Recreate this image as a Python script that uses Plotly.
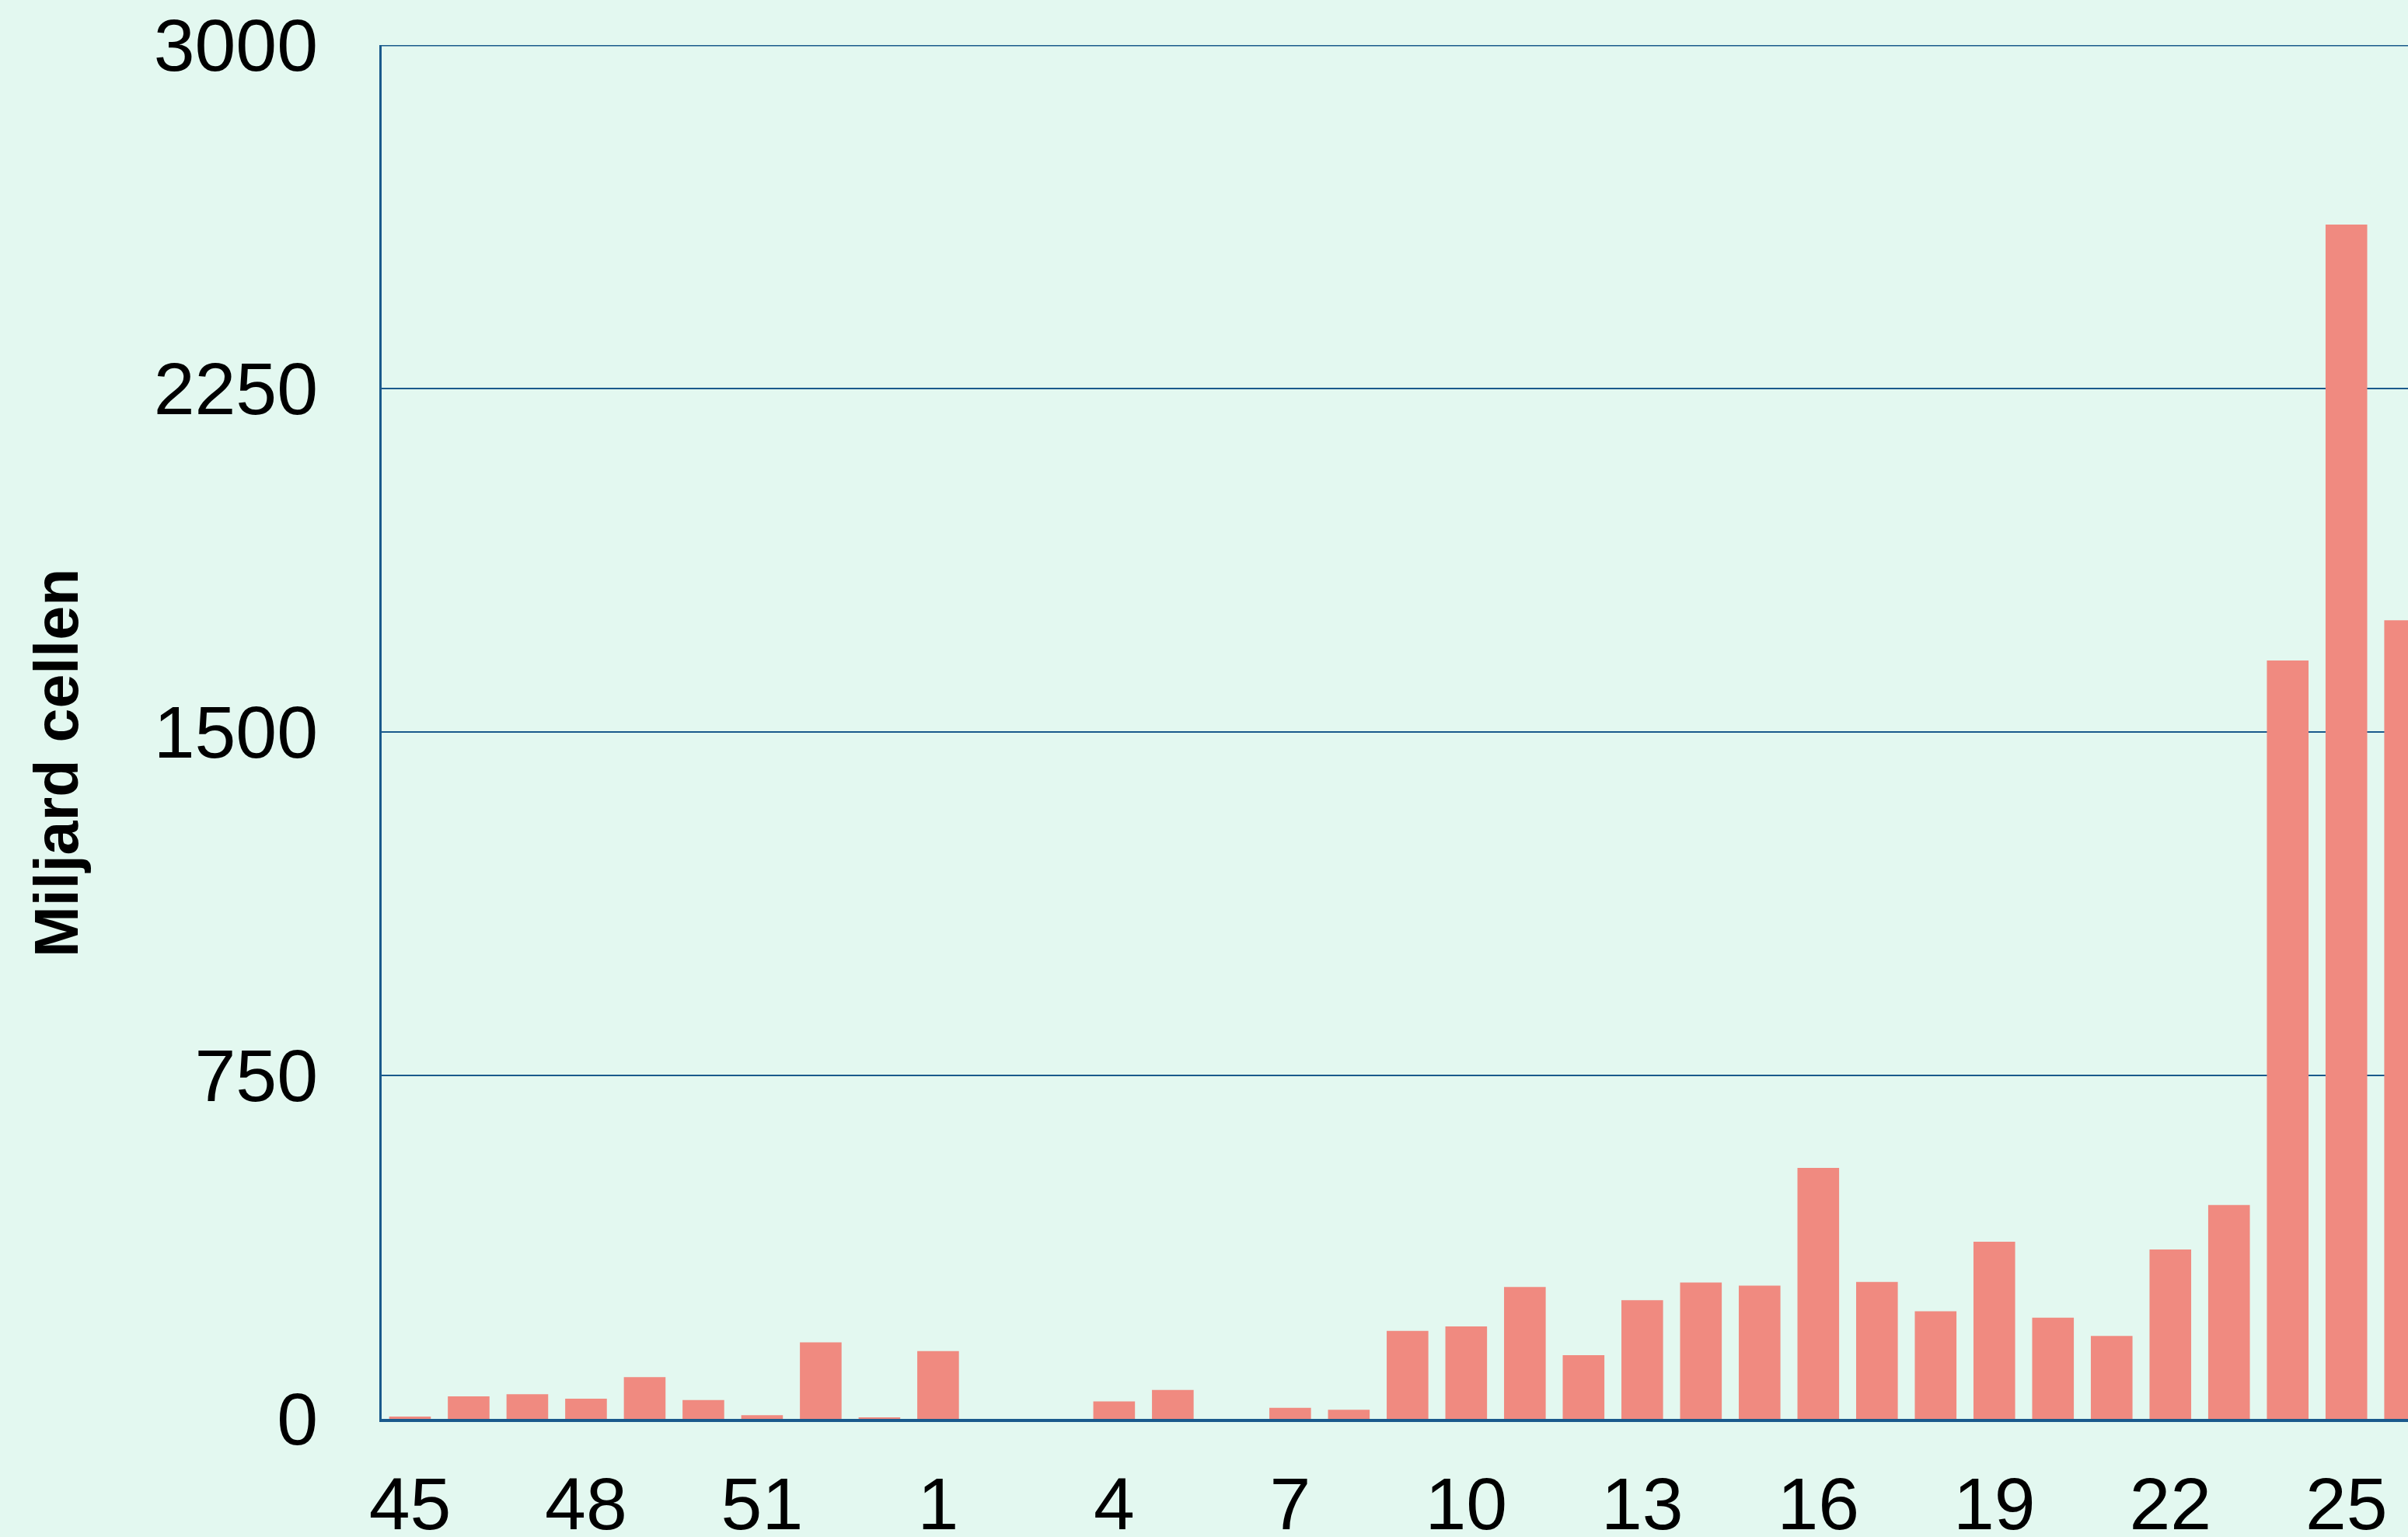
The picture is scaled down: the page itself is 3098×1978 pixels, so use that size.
import plotly.graph_objects as go

weeks = [str(w) for w in range(45, 54)] + [str(w) for w in range(1, 27)]
values = [5, 49, 54, 44, 91, 41, 8, 167, 2,
          148, 0, 0, 38, 63, 0, 24, 20, 192, 202,
          288, 139, 259, 298, 291, 548, 299, 235, 387, 221,
          181, 370, 467, 1656, 2608, 1744]
tick_weeks = ['45', '48', '51', '1', '4', '7', '10', '13', '16', '19', '22', '25']
y_ticks = [0, 750, 1500, 2250, 3000]
y_title = 'Miljard cellen'

BG = '#e3f8f0'
BAR = '#f08a80'
LINE = '#1a5a8c'
FONT = 'Liberation Sans, Arial, sans-serif'

fig = go.Figure(go.Bar(x=weeks, y=values, marker_color=BAR,
                       marker_line_width=0, width=0.71))

fig.update_layout(
    width=3098, height=1978,
    paper_bgcolor=BG, plot_bgcolor=BG,
    margin=dict(l=491, r=0, t=58, b=152, autoexpand=False),
    showlegend=False,
    font=dict(family=FONT, color='black', size=94),
)
fig.update_xaxes(
    type='category', categoryorder='array', categoryarray=weeks,
    range=[-0.483, 34.05], automargin=False,
    tickmode='array', tickvals=tick_weeks, ticktext=tick_weeks,
    showgrid=False, showline=True, linecolor=LINE, linewidth=4,
    ticks='outside', ticklen=24, tickcolor='rgba(0,0,0,0)',
    tickfont=dict(size=95, family=FONT), zeroline=False,
)
fig.update_yaxes(
    range=[0, 3000], tickmode='array', tickvals=y_ticks, automargin=False,
    showgrid=True, gridcolor=LINE, gridwidth=2,
    showline=True, linecolor=LINE, linewidth=3,
    ticks='outside', ticklen=60, tickcolor='rgba(0,0,0,0)',
    tickfont=dict(size=95, family=FONT), zeroline=False,
)
fig.add_annotation(
    text='<b>' + y_title + '</b>', textangle=-90,
    xref='paper', yref='paper', x=-0.1603, y=0.4774,
    xanchor='center', yanchor='middle', showarrow=False,
    font=dict(size=79, family=FONT, color='black'),
)
fig.add_shape(type='line', xref='paper', yref='y', x0=0, x1=1, y0=3000, y1=3000,
              line=dict(color=LINE, width=3))

fig.write_html('out.html', config={'displayModeBar': False},
               post_script="document.body.style.margin='0';document.body.style.padding='0';"
                           "document.body.style.background='" + BG + "';")
